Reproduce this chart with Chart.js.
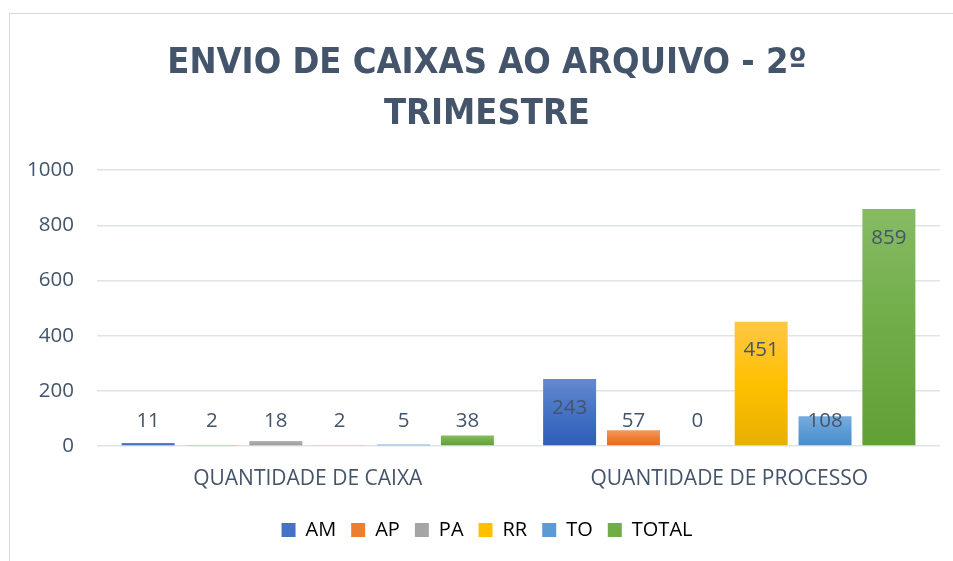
<!DOCTYPE html>
<html>
<head>
<meta charset="utf-8">
<script src="https://cdn.jsdelivr.net/npm/chart.js@4.4.0/dist/chart.umd.min.js"></script>
<style>
  html, body { margin:0; padding:0; background:#fff; }
  #frame { position:absolute; left:9px; top:13px; width:1000px; height:600px; border-left:1px solid #d9d9d9; border-top:1px solid #d9d9d9; }
  #wrap { position:absolute; left:0; top:0; width:953px; height:561px; }
</style>
</head>
<body>
<div id="frame"></div>
<div id="wrap"><canvas id="c" width="953" height="561"></canvas></div>
<script>
const titleLines = ["ENVIO DE CAIXAS AO ARQUIVO - 2º", "TRIMESTRE"];
const categories = ["QUANTIDADE DE CAIXA", "QUANTIDADE DE PROCESSO"];
const seriesNames = ["AM", "AP", "PA", "RR", "TO", "TOTAL"];
const AM = [11, 243];
const AP = [2, 57];
const PA = [18, 0];
const RR = [2, 451];
const TO = [5, 108];
const TOTAL = [38, 859];
const yTicks = [0, 200, 400, 600, 800, 1000];

const seriesValues = [AM, AP, PA, RR, TO, TOTAL];
// [top, middle, bottom] gradient stops
const palette = [
  ["#6688d0", "#4472C4", "#2f5db8"],
  ["#f29a5e", "#ED7D31", "#e86a1c"],
  ["#b4b4b4", "#A5A5A5", "#979797"],
  ["#ffc745", "#FFC000", "#e6b000"],
  ["#78addf", "#5B9BD5", "#4a8ccd"],
  ["#86bb63", "#70AD47", "#60a035"]
];
const textColor = "#44546A";
const bodyFont = "'Open Sans', 'Noto Sans', sans-serif";

function barGradient(ctx, i) {
  const chart = ctx.chart;
  const ys = chart.scales && chart.scales.y;
  if (!chart.chartArea || !ys || ctx.type !== 'data') return palette[i][1];
  const v = ctx.raw;
  const top = ys.getPixelForValue(v);
  const base = ys.getPixelForValue(0);
  if (base - top < 1) return palette[i][1];
  const g = chart.ctx.createLinearGradient(0, top, 0, base);
  g.addColorStop(0, palette[i][0]);
  g.addColorStop(0.5, palette[i][1]);
  g.addColorStop(1, palette[i][2]);
  return g;
}

const datasets = seriesNames.map((name, i) => ({
  label: name,
  data: seriesValues[i],
  backgroundColor: (ctx) => barGradient(ctx, i),
  borderWidth: 0,
  categoryPercentage: 0.909,
  barPercentage: 0.83
}));

const labelPlugin = {
  id: 'valueLabels',
  afterDatasetsDraw(chart) {
    const ctx = chart.ctx;
    const ys = chart.scales.y;
    const zero = ys.getPixelForValue(0);
    ctx.save();
    ctx.fillStyle = textColor;
    ctx.font = "20.5px " + bodyFont;
    ctx.textAlign = 'center';
    ctx.textBaseline = 'middle';
    chart.data.datasets.forEach((ds, di) => {
      const meta = chart.getDatasetMeta(di);
      meta.data.forEach((el, j) => {
        const v = ds.data[j];
        let y;
        if (v >= 200) y = el.y + 29;
        else y = zero - 25;
        ctx.fillText(String(v), el.x, y);
      });
    });
    ctx.restore();
  }
};

new Chart(document.getElementById('c'), {
  type: 'bar',
  data: { labels: categories, datasets },
  plugins: [labelPlugin],
  options: {
    responsive: false,
    animation: false,
    layout: { padding: { left: 34, right: 13, top: 22, bottom: 11 } },
    plugins: {
      title: {
        display: true,
        text: titleLines,
        color: textColor,
        font: { family: "'Liberation Sans Narrow', 'DejaVu Sans Condensed', 'Open Sans', sans-serif", size: 36, weight: 'bold', lineHeight: 1.42 },
        padding: { top: 16, bottom: 30 }
      },
      legend: {
        position: 'bottom',
        labels: {
          color: textColor,
          font: { family: bodyFont, size: 20 },
          boxWidth: 14,
          boxHeight: 14,
          padding: 15,
          generateLabels(chart) {
            return seriesNames.map((n, i) => ({
              text: n,
              fillStyle: palette[i][1],
              strokeStyle: palette[i][1],
              lineWidth: 0,
              hidden: false,
              datasetIndex: i
            }));
          }
        }
      },
      tooltip: { enabled: false }
    },
    scales: {
      x: {
        grid: { display: false },
        border: { display: false },
        ticks: { color: textColor, font: { family: bodyFont, size: 21 }, padding: 12 },
        afterFit(s) { s.height = 59; }
      },
      y: {
        min: 0,
        max: 1000,
        afterBuildTicks(s) { s.ticks = yTicks.map(v => ({ value: v })); },
        grid: { color: "#e0e3e8", lineWidth: 1.5, drawTicks: false },
        border: { display: false },
        ticks: { color: textColor, font: { family: bodyFont, size: 20.5 }, padding: 23, callback: (v) => String(v) },
        afterFit(s) { s.width = 63; s._computeLabelArea = () => undefined; }
      }
    }
  }
});
</script>
</body>
</html>
